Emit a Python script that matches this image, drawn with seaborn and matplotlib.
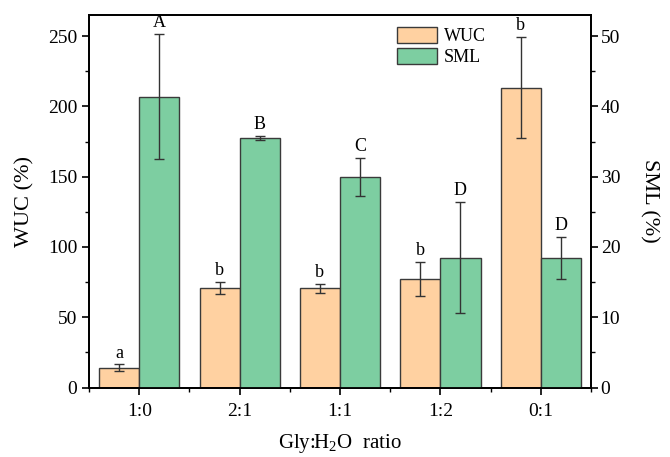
import matplotlib
matplotlib.use("Agg")
import matplotlib.pyplot as plt
from matplotlib.ticker import MultipleLocator, FixedLocator
import numpy as np
import pandas as pd
import seaborn as sns

RATIOS = ["1:0", "2:1", "1:1", "1:2", "0:1"]
WUC = [14.2, 70.6, 70.5, 77.1, 213.4]
WUC_ERR = [2.3, 4.4, 3.2, 12.1, 36.2]
WUC_LETTERS = ["a", "b", "b", "b", "b"]
SML = [41.4, 35.5, 30.0, 18.5, 18.4]
SML_ERR = [8.9, 0.3, 2.7, 7.9, 3.0]
SML_LETTERS = ["A", "B", "C", "D", "D"]
GROUPS = ["WUC", "SML"]
COLORS = {"WUC": "#FFD1A1", "SML": "#7DCEA1"}

sns.set_style("ticks")
plt.rcParams["font.family"] = ["Liberation Serif", "DejaVu Serif"]
plt.rcParams["mathtext.fontset"] = "custom"
plt.rcParams["mathtext.rm"] = "Liberation Serif"
plt.rcParams["axes.linewidth"] = 1.3
plt.rcParams["text.color"] = "black"
plt.rcParams["axes.labelcolor"] = "black"
plt.rcParams["xtick.color"] = "black"
plt.rcParams["ytick.color"] = "black"

df = pd.DataFrame({
    "ratio": RATIOS * 2,
    "group": ["WUC"] * len(RATIOS) + ["SML"] * len(RATIOS),
    "value": WUC + SML,
})

fig = plt.figure(figsize=(6.7, 4.57), dpi=100)
ax = fig.add_axes([0.133, 0.152, 0.749, 0.815])
ax2 = ax.twinx()

bar_kw = dict(data=df, x="ratio", y="value", hue="group", hue_order=GROUPS, order=RATIOS,
              palette=COLORS, errorbar=None, edgecolor="#3a3a3a", linewidth=1.0,
              legend=False, width=0.8, saturation=1)
# both groups are dodged on each axis; keep only the one that belongs to that scale
sns.barplot(ax=ax, **bar_kw)
sns.barplot(ax=ax2, **bar_kw)
for p in list(ax.containers[1]):
    p.remove()
for p in list(ax2.containers[0]):
    p.remove()


def add_err(axis, values, errs, letters):
    bars = sorted(axis.patches, key=lambda p: p.get_x())
    xs = [p.get_x() + p.get_width() / 2 for p in bars]
    axis.errorbar(xs, values, yerr=errs, fmt="none", ecolor="#333333",
                  elinewidth=1.0, capsize=3.5, capthick=1.0)
    for x, v, e, t in zip(xs, values, errs, letters):
        axis.annotate(t, (x, v + e), xytext=(0, 2), textcoords="offset points",
                      ha="center", va="bottom", fontsize=13)


add_err(ax, WUC, WUC_ERR, WUC_LETTERS)
add_err(ax2, SML, SML_ERR, SML_LETTERS)

ax.set_xlim(-0.5, 4.5)
ax.set_ylim(0, 265)
ax2.set_ylim(0, 53)
ax.yaxis.set_major_locator(MultipleLocator(50))
ax.yaxis.set_minor_locator(MultipleLocator(25))
ax2.yaxis.set_major_locator(MultipleLocator(10))
ax2.yaxis.set_minor_locator(MultipleLocator(5))
ax.xaxis.set_minor_locator(FixedLocator(np.arange(-0.5, 5.0, 1.0)))

for a in (ax, ax2):
    a.tick_params(which="major", direction="out", length=5, width=1.2, labelsize=14, colors="black")
    a.tick_params(which="minor", direction="out", length=3, width=1.0)
    for s in a.spines.values():
        s.set_visible(True)
        s.set_color("black")
ax2.tick_params(axis="y", which="major", pad=2)
ax.tick_params(axis="x", pad=6)

ax.set_xlabel("Gly:H$_\\mathregular{2}$O  ratio", fontsize=15, labelpad=9, color="black")
ax.set_ylabel("WUC (%)", fontsize=16, labelpad=10, color="black")
ax2.set_ylabel("SML (%)", fontsize=16, rotation=270, labelpad=28, color="black")

handles = [plt.Rectangle((0, 0), 1, 1, facecolor=COLORS[g], edgecolor="#3a3a3a", linewidth=1.0) for g in GROUPS]
ax2.legend(handles, GROUPS, loc="upper left", bbox_to_anchor=(0.614, 0.968), frameon=False,
           fontsize=13, handlelength=2.2, handleheight=1.0, labelspacing=0.15,
           handletextpad=0.4, borderpad=0, borderaxespad=0)

fig.savefig("out.png", dpi=100)
